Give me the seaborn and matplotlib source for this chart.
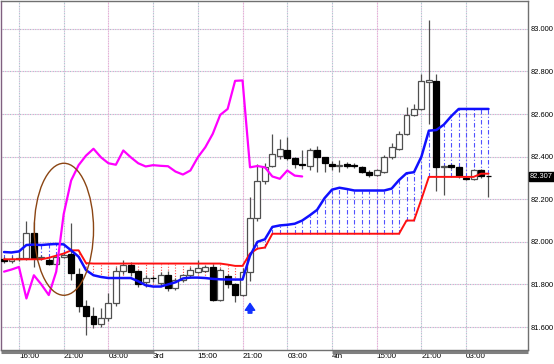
import numpy as np
import pandas as pd
import matplotlib
matplotlib.use('Agg')
import matplotlib.pyplot as plt
import matplotlib.transforms as mtrans
from matplotlib.patches import Ellipse
import seaborn as sns

# ---------------- data ----------------
opens = [81.921, 81.910, 81.920, 81.923, 82.043, 81.926, 81.917, 81.895, 81.930, 81.941,
         81.851, 81.700, 81.653, 81.614, 81.640, 81.715, 81.862, 81.890, 81.863, 81.810,
         81.832, 81.805, 81.843, 81.784, 81.820, 81.843, 81.860, 81.865, 81.882, 81.726,
         81.838, 81.800, 81.750, 81.860, 82.113, 82.285, 82.358, 82.405, 82.430, 82.394,
         82.366, 82.354, 82.432, 82.397, 82.366, 82.355, 82.366, 82.357, 82.350, 82.330,
         82.316, 82.330, 82.397, 82.436, 82.507, 82.596, 82.624, 82.750, 82.753, 82.350,
         82.363, 82.350, 82.300, 82.296, 82.335, 82.311]
closes = [81.910, 81.920, 81.925, 82.043, 81.926, 81.930, 81.895, 81.930, 81.940, 81.854,
          81.700, 81.653, 81.614, 81.640, 81.715, 81.862, 81.890, 81.856, 81.804, 81.832,
          81.828, 81.843, 81.784, 81.820, 81.843, 81.870, 81.877, 81.882, 81.726, 81.866,
          81.800, 81.750, 81.860, 82.113, 82.285, 82.350, 82.413, 82.436, 82.394, 82.366,
          82.362, 82.432, 82.397, 82.369, 82.354, 82.360, 82.357, 82.355, 82.330, 82.316,
          82.335, 82.397, 82.444, 82.507, 82.596, 82.624, 82.756, 82.758, 82.350, 82.356,
          82.350, 82.307, 82.296, 82.335, 82.311, 82.307]
highs = [81.930, 81.935, 81.950, 82.100, 82.093, 81.940, 81.925, 81.935, 81.950, 82.088,
         81.875, 81.726, 81.695, 81.687, 81.760, 81.880, 81.913, 81.905, 81.870, 81.845,
         81.840, 81.860, 81.863, 81.830, 81.850, 81.880, 81.913, 81.890, 81.895, 81.875,
         81.850, 81.805, 81.875, 82.210, 82.366, 82.370, 82.507, 82.483, 82.490, 82.400,
         82.430, 82.440, 82.452, 82.400, 82.380, 82.385, 82.375, 82.370, 82.355, 82.335,
         82.340, 82.410, 82.463, 82.520, 82.632, 82.645, 82.790, 83.040, 82.788, 82.360,
         82.366, 82.355, 82.305, 82.340, 82.340, 82.315]
lows = [81.900, 81.900, 81.910, 81.915, 81.880, 81.915, 81.890, 81.890, 81.925, 81.820,
        81.670, 81.562, 81.593, 81.600, 81.630, 81.700, 81.850, 81.840, 81.788, 81.790,
        81.810, 81.795, 81.770, 81.775, 81.810, 81.835, 81.855, 81.860, 81.720, 81.720,
        81.785, 81.718, 81.745, 81.817, 82.100, 82.270, 82.350, 82.390, 82.385, 82.345,
        82.340, 82.335, 82.330, 82.327, 82.335, 82.330, 82.345, 82.345, 82.325, 82.305,
        82.310, 82.325, 82.390, 82.430, 82.500, 82.590, 82.620, 82.554, 82.241, 82.218,
        82.340, 82.300, 82.290, 82.290, 82.300, 82.210]
span_blue = [81.952, 81.950, 81.955, 81.985, 81.987, 81.985, 81.988, 81.990, 81.988, 81.960,
             81.930, 81.867, 81.843, 81.835, 81.830, 81.830, 81.830, 81.830, 81.815, 81.796,
             81.790, 81.790, 81.800, 81.810, 81.828, 81.832, 81.832, 81.830, 81.826, 81.824,
             81.823, 81.823, 81.823, 81.935, 82.000, 82.012, 82.070, 82.077, 82.080, 82.085,
             82.100, 82.124, 82.150, 82.205, 82.245, 82.254, 82.248, 82.241, 82.241, 82.241,
             82.241, 82.241, 82.250, 82.290, 82.322, 82.327, 82.400, 82.522, 82.525, 82.550,
             82.590, 82.624, 82.624, 82.624, 82.624, 82.624]
span_red = [81.918, 81.918, 81.918, 81.918, 81.918, 81.918, 81.925, 81.935, 81.945, 81.960,
            81.960, 81.900, 81.898, 81.898, 81.898, 81.898, 81.898, 81.898, 81.898, 81.898,
            81.898, 81.898, 81.898, 81.898, 81.898, 81.898, 81.898, 81.898, 81.898, 81.898,
            81.893, 81.887, 81.887, 81.945, 81.968, 81.973, 82.038, 82.038, 82.038, 82.038,
            82.038, 82.038, 82.038, 82.038, 82.038, 82.038, 82.038, 82.038, 82.038, 82.038,
            82.038, 82.038, 82.038, 82.038, 82.100, 82.100, 82.200, 82.305, 82.305, 82.305,
            82.305, 82.305, 82.305, 82.305, 82.320, 82.320]
chikou = [81.860, 81.870, 81.882, 81.734, 81.843, 81.800, 81.750, 81.860, 82.130, 82.288,
          82.360, 82.405, 82.437, 82.397, 82.369, 82.362, 82.429, 82.397, 82.369, 82.354,
          82.360, 82.357, 82.355, 82.330, 82.316, 82.335, 82.397, 82.444, 82.507, 82.596,
          82.624, 82.756, 82.758, 82.350, 82.356, 82.350, 82.307, 82.296, 82.335, 82.311,
          82.307]
x_tick_pos = [2, 8, 14, 20, 26, 32, 38, 44, 50, 56, 62]
x_tick_labels = ['16:00', '21:00', '03:00', '3rd', '15:00', '21:00', '03:00', '4th',
                 '15:00', '21:00', '03:00']
y_ticks = [81.6, 81.8, 82.0, 82.2, 82.4, 82.6, 82.8, 83.0]
last_price = 82.307

# ---------------- figure ----------------
sns.set_theme(style='white')
plt.rcParams['font.family'] = ['Liberation Sans', 'DejaVu Sans']

W, H = 554, 364
fig = plt.figure(figsize=(W / 100, H / 100), dpi=100, facecolor='white')
ax = fig.add_axes([1 / W, 14 / H, 527 / W, 349 / H])
ax.set_facecolor('white')

n = len(opens)
idx = np.arange(n)
df = pd.DataFrame({'k': idx, 'open': opens, 'close': closes, 'high': highs, 'low': lows,
                   'blue': span_blue, 'red': span_red})
dfc = pd.DataFrame({'k': np.arange(len(chikou)), 'chikou': chikou})

ax.set_xlim(-0.41, 70.3)
ax.set_ylim(81.492, 83.131)

# grid (two-colour dotted)
for y in y_ticks:
    ax.axhline(y, color='#e8a0d0', lw=0.8, linestyle=(0, (1, 2)), zorder=0.5)
    ax.axhline(y, color='#a0c4c8', lw=0.8, linestyle=(1.5, (1, 2)), zorder=0.5)
for i, xp in enumerate(x_tick_pos):
    c1 = '#a0c4c8' if i % 3 != 2 else '#e8a0d0'
    ax.axvline(xp, color=c1, lw=0.8, linestyle=(0, (1, 2)), zorder=0.5)
    ax.axvline(xp, color='#d8b8d8', lw=0.8, linestyle=(1.5, (1, 2)), zorder=0.5)

# cloud verticals
for k in idx:
    b, r = span_blue[k], span_red[k]
    if abs(b - r) < 0.004:
        continue
    if b > r:
        ax.vlines(k, r, b, colors='#5050ff', lw=0.8, linestyles=(0, (4, 2, 1, 2)), zorder=1)
    else:
        ax.vlines(k, b, r, colors='#ff5050', lw=0.8, linestyles=(0, (1, 1.5)), zorder=1)

# candles
bw = 0.8
for k in idx:
    o, c, h, l = opens[k], closes[k], highs[k], lows[k]
    ax.vlines(k, l, h, colors='#505050', lw=0.9, zorder=2)
    lo, hi = min(o, c), max(o, c)
    hgt = max(hi - lo, 0.004)
    if c >= o:
        ax.bar(k, hgt, bottom=lo, width=bw, color='white', edgecolor='#505050',
               linewidth=0.9, zorder=3)
    else:
        ax.bar(k, hgt, bottom=lo, width=bw, color='black', edgecolor='black',
               linewidth=0.9, zorder=3)

# lines
sns.lineplot(data=df, x='k', y='red', ax=ax, color='#ff1010', linewidth=1.4, zorder=4)
sns.lineplot(data=df, x='k', y='blue', ax=ax, color='#1010ff', linewidth=1.8, zorder=4)
sns.lineplot(data=dfc, x='k', y='chikou', ax=ax, color='#ff00ff', linewidth=1.6, zorder=4)

# ellipse annotation
ax.add_patch(Ellipse((8.03, 82.059), 7.95, 0.62, fill=False, edgecolor='#8b4513',
                     lw=1.0, zorder=5))

# blue arrow
ax.annotate('', xy=(33, 81.724), xytext=(33, 81.652),
            arrowprops=dict(arrowstyle='simple,head_width=0.75,head_length=0.55,tail_width=0.3',
                            color='#1030ff', mutation_scale=9), zorder=6)

# axes styling
for s in ax.spines.values():
    s.set_color('#707070')
    s.set_linewidth(1.0)
ax.spines['left'].set_color('#806080')
ax.set_xlabel('')
ax.set_ylabel('')
ax.yaxis.tick_right()
ax.set_yticks(y_ticks)
ax.set_yticklabels([f'{v:.3f}' for v in y_ticks])
ax.set_xticks(x_tick_pos)
ax.set_xticklabels(x_tick_labels)
for t in ax.get_xticklabels():
    t.set_horizontalalignment('left')
ax.tick_params(axis='both', length=0, colors='black')
ax.tick_params(axis='y', pad=2, labelsize=5.4)
ax.tick_params(axis='x', pad=2, labelsize=5.8)

# day bars beneath the axis
trans = mtrans.blended_transform_factory(ax.transData, ax.transAxes)
ax.plot([-0.41, 20.1], [-0.006, -0.006], color='#808080', lw=2.2, transform=trans,
        clip_on=False, solid_capstyle='butt')
ax.plot([44.0, 70.3], [-0.006, -0.006], color='#808080', lw=2.2, transform=trans,
        clip_on=False, solid_capstyle='butt')

# last price label
trans2 = mtrans.blended_transform_factory(ax.transAxes, ax.transData)
ax.text(1.004, last_price, f'{last_price:.3f}', transform=trans2, fontsize=5.4,
        color='white', va='center', ha='left',
        bbox=dict(facecolor='black', edgecolor='black', pad=0.5), zorder=7, clip_on=False)

fig.savefig('out.png', dpi=100, facecolor='white')
